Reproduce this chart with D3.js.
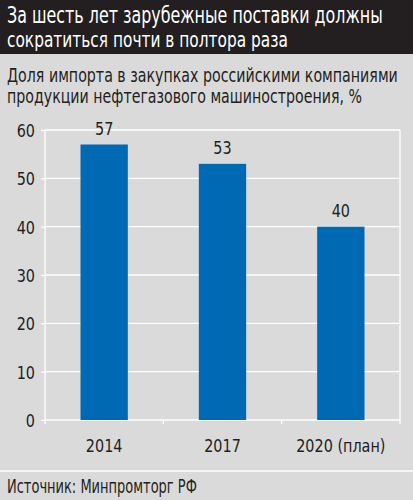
<!DOCTYPE html>
<html><head><meta charset="utf-8">
<script src="https://cdn.jsdelivr.net/npm/d3@7"></script>
<style>
html,body{margin:0;padding:0;background:#dadada;}
svg{display:block;}
text{font-family:"Liberation Sans Narrow","DejaVu Sans Condensed","Roboto","Noto Sans",sans-serif;fill:#231f20;}
</style></head>
<body>
<script>
const titleLines = ["За шесть лет зарубежные поставки должны", "сократиться почти в полтора раза"];
const subtitleLines = ["Доля импорта в закупках российскими компаниями", "продукции нефтегазового машиностроения, %"];
const source = "Источник: Минпромторг РФ";
const categories = ["2014", "2017", "2020 (план)"];
const values = [57, 53, 40];
const yTicks = [0, 10, 20, 30, 40, 50, 60];

const W = 413, H = 500;
const svg = d3.select("body").append("svg").attr("width", W).attr("height", H);

svg.append("rect").attr("width", W).attr("height", H).attr("fill", "#dadada");
svg.append("rect").attr("width", W).attr("height", 54).attr("fill", "#231f20");
svg.append("line").attr("x1", 0).attr("x2", W).attr("y1", 471).attr("y2", 471)
  .attr("stroke", "#ffffff").attr("stroke-width", 1.5);

// Multi-line text block: each line fitted to a target width, all lines share one vertical stretch
function fittedBlock(parent, lines, x, y0, lineGap, widths, capH, color) {
  const t = parent.append("text").attr("x", 0).attr("y", 0);
  if (color) t.style("fill", color);
  const spans = lines.map(s => t.append("tspan").attr("x", 0).attr("font-size", 20).text(s));
  const sizes = spans.map((sp, i) => {
    const w = sp.node().getComputedTextLength() || widths[i];
    const fs = 20 * widths[i] / w;
    sp.attr("font-size", fs);
    return fs;
  });
  const sy = capH / (sizes[0] * 0.73);
  spans.forEach((sp, i) => sp.attr("y", (i * lineGap) / sy));
  t.attr("transform", `translate(${x},${y0}) scale(1,${sy})`);
  return t;
}

fittedBlock(svg, titleLines, 7, 23, 24, [376, 281], 16.5, "#ffffff");
fittedBlock(svg, subtitleLines, 7, 82, 21, [391, 355], 14.5, null);
fittedBlock(svg, [source], 7, 493, 0, [190], 14, null);

const x = d3.scaleBand().domain(categories).range([45, 400]).padding(0);
const y = d3.scaleLinear().domain([0, 60]).range([420, 130]);
const SY = 1.15;

// gridlines
svg.append("g").selectAll("line").data(yTicks).join("line")
  .attr("x1", 45).attr("x2", 400)
  .attr("y1", d => y(d)).attr("y2", d => y(d))
  .attr("stroke", "#ffffff").attr("stroke-width", 1.3);

// frame verticals
[45, 400].forEach(xx => {
  svg.append("line").attr("x1", xx).attr("x2", xx).attr("y1", y(60)).attr("y2", y(0))
    .attr("stroke", "#ffffff").attr("stroke-width", 1.3);
});

// y axis
const yAxis = d3.axisLeft(y).tickValues(yTicks).tickSize(4).tickPadding(6);
const gy = svg.append("g").attr("transform", "translate(45,0)").call(yAxis);
gy.select(".domain").remove();
gy.selectAll(".tick line").attr("stroke", "#ffffff").attr("stroke-width", 1.3);
gy.selectAll(".tick text").attr("font-size", 16).attr("font-family", null)
  .attr("x", -10).attr("dy", "0.36em")
  .attr("transform", `scale(1,${SY})`).style("fill", "#231f20");

// x axis ticks at band boundaries
const bounds = categories.map(c => x(c)).concat([x.range()[1]]);
svg.append("g").selectAll("line").data(bounds).join("line")
  .attr("x1", d => d).attr("x2", d => d).attr("y1", y(0)).attr("y2", y(0) + 4)
  .attr("stroke", "#ffffff").attr("stroke-width", 1.3);

const gx = svg.append("g").attr("transform", `translate(0,${y(0)})`)
  .call(d3.axisBottom(x).tickSize(0));
gx.select(".domain").remove();
gx.selectAll(".tick text").attr("font-size", 16).attr("font-family", null)
  .attr("y", 32 / SY).attr("dy", 0)
  .attr("transform", `scale(1,${SY})`).style("fill", "#231f20");

// bars
const bw = x.bandwidth() * 0.4;
svg.append("g").selectAll("rect").data(values).join("rect")
  .attr("x", (d, i) => x(categories[i]) + x.bandwidth() / 2 - bw / 2)
  .attr("width", bw)
  .attr("y", d => y(d))
  .attr("height", d => y(0) - y(d))
  .attr("fill", "#0069b4");

// value labels
svg.append("g").selectAll("text").data(values).join("text")
  .attr("font-size", 16).attr("text-anchor", "middle")
  .attr("transform", (d, i) => `translate(${x(categories[i]) + x.bandwidth() / 2},${y(d) - 10}) scale(1,${SY})`)
  .text(d => d);
</script>
</body></html>
